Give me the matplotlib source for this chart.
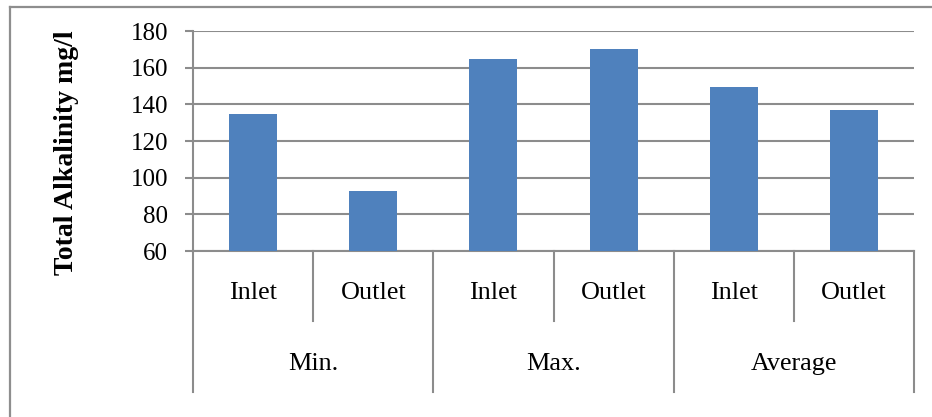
import matplotlib
matplotlib.use("Agg")
import matplotlib.pyplot as plt
from matplotlib.lines import Line2D
from matplotlib.transforms import blended_transform_factory

# Total alkalinity (mg/l) at inlet and outlet for each statistic
groups = ["Min.", "Max.", "Average"]
points = ["Inlet", "Outlet"]
alkalinity = [135, 93, 165, 170, 149.5, 137]
y_ticks = [60, 80, 100, 120, 140, 160, 180]

W, H = 932, 417
fig = plt.figure(figsize=(W / 100, H / 100), dpi=100)
plt.rcParams["font.family"] = ["Liberation Serif", "DejaVu Serif"]

def fx(px):
    return px / W

def fy(py):
    return 1 - py / H

# chart frame (only top and left edges fall inside the image)
fig.add_artist(Line2D([fx(9.5), 1.0], [fy(7), fy(7)], color="#8e8e8e", lw=1.6))
fig.add_artist(Line2D([fx(9.5), fx(9.5)], [fy(7), 0.0], color="#8e8e8e", lw=1.6))

left, right, top, bottom = 193, 914, 31, 251
ax = fig.add_axes([fx(left), fy(bottom), fx(right) - fx(left), fy(top) - fy(bottom)])

grid_c = "#8c8c8c"
n = len(alkalinity)
x = list(range(n))
ax.bar(x, alkalinity, width=0.4, color="#4f81bd", zorder=3, bottom=0)
ax.set_xlim(-0.5, n - 0.5)
ax.set_ylim(y_ticks[0], y_ticks[-1])
ax.set_yticks(y_ticks)
ax.set_yticklabels([str(v) for v in y_ticks], fontsize=18)
ax.yaxis.grid(True, color=grid_c, lw=1.5, zorder=1)
ax.set_xticks([])
for s in ["top", "right"]:
    ax.spines[s].set_visible(False)
ax.spines["left"].set_color(grid_c)
ax.spines["left"].set_linewidth(1.5)
ax.spines["bottom"].set_color(grid_c)
ax.spines["bottom"].set_linewidth(1.5)
ax.tick_params(axis="y", length=8 * 0.72, width=1.5, color=grid_c, pad=12)

axw = right - left
axh = bottom - top
ax.set_ylabel("Total Alkalinity mg/l", fontsize=20, fontweight="bold")
ax.yaxis.set_label_coords((79 - left) / axw, (bottom - 153) / axh)

# two-level category axis
tr = blended_transform_factory(ax.transData, ax.transAxes)

def ay(py):
    return (bottom - py) / axh

# separator lines
for i in range(len(groups) + 1):
    xb = -0.5 + 2 * i
    ax.add_line(Line2D([xb, xb], [0, ay(392)], transform=tr, color=grid_c, lw=1.5, clip_on=False))
for i in range(len(groups)):
    xb = 0.5 + 2 * i
    ax.add_line(Line2D([xb, xb], [0, ay(321)], transform=tr, color=grid_c, lw=1.5, clip_on=False))

# labels
for i in range(n):
    ax.text(i, ay(293), points[i % 2], transform=tr, ha="center", va="center",
            fontsize=18.8, clip_on=False)
for g, name in enumerate(groups):
    ax.text(2 * g + 0.5, ay(364), name, transform=tr, ha="center", va="center",
            fontsize=18.8, clip_on=False)

fig.savefig("out.png", dpi=100)
